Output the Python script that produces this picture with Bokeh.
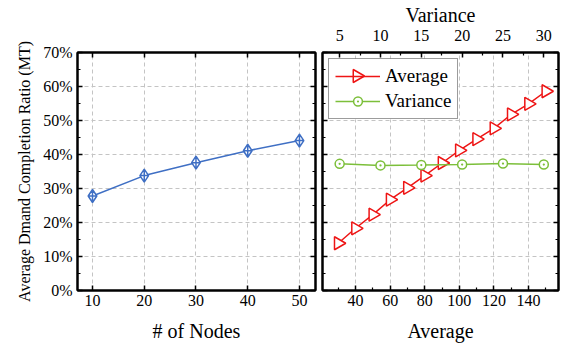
import numpy as np
from bokeh.plotting import figure
from bokeh.layouts import row
from bokeh.models import (Range1d, LinearAxis, FixedTicker, PrintfTickFormatter,
                          CustomJSTickFormatter, Legend, BoxAnnotation)
from bokeh.embed import file_html
from bokeh.resources import INLINE

# ---------------- data ----------------
nodes = [10, 20, 30, 40, 50]
nodes_ratio = [27.8, 33.8, 37.6, 41.1, 44.1]

avg_x = [30, 40, 50, 60, 70, 80, 90, 100, 110, 120, 130, 140, 150]
avg_ratio = [13.9, 18.3, 22.3, 26.7, 30.2, 33.8, 37.5, 41.2, 44.5, 47.7, 51.8, 54.9, 58.6]

var_x = [5, 10, 15, 20, 25, 30]
var_ratio = [37.25, 36.8, 36.9, 37.05, 37.35, 37.05]

y_ticks = [0, 10, 20, 30, 40, 50, 60, 70]
y_minor = [5, 15, 25, 35, 45, 55, 65]
nodes_ticks = [10, 20, 30, 40, 50]
avg_ticks = [40, 60, 80, 100, 120, 140]
avg_minor = [30, 50, 70, 90, 110, 130, 150]
var_ticks = [5, 10, 15, 20, 25, 30]
var_minor = [7.5, 12.5, 17.5, 22.5, 27.5]

FONT = "Liberation Serif"
BLUE = "#3f6fc4"
RED = "#ee1515"
GREEN = "#7cbf3a"
GRID = "#c4c4c4"

EMPTY = CustomJSTickFormatter(code="return ''")

FRAME_H = 238
FRAME_W2 = 236
TOP_B = 52
BOT_B = 56
H = TOP_B + FRAME_H + BOT_B
P2_LEFT_B = 4
P2_RIGHT_B = 10

Y_RANGE = (0, 70)
X1_RANGE = (7.1, 53.1)
X2_RANGE = (20.9, 157.3)
VAR_RANGE = (2.9, 31.8)


def style_axis(ax, ticks, minor, labels=True):
    ax.ticker = FixedTicker(ticks=ticks, minor_ticks=minor)
    ax.axis_line_color = "black"
    ax.axis_line_width = 2
    ax.major_tick_line_color = "black"
    ax.major_tick_line_width = 1.5
    ax.minor_tick_line_color = "black"
    ax.minor_tick_line_width = 1.2
    ax.major_tick_in = 5
    ax.major_tick_out = 0
    ax.minor_tick_in = 3
    ax.minor_tick_out = 0
    ax.major_label_text_font = FONT
    ax.major_label_text_font_size = "16px"
    ax.major_label_text_color = "black"
    ax.axis_label_text_font = FONT
    ax.axis_label_text_font_style = "normal"
    ax.axis_label_text_color = "black"
    ax.axis_label_text_font_size = "20px"
    if not labels:
        ax.formatter = EMPTY
        ax.major_label_standoff = 0


def style_fig(p):
    p.outline_line_color = "black"
    p.outline_line_width = 2
    p.outline_line_alpha = 1
    p.background_fill_color = "white"
    p.border_fill_color = "white"
    for g in (p.xgrid[0], p.ygrid[0]):
        g.grid_line_color = GRID
        g.grid_line_dash = "4 3"
        g.grid_line_width = 1


# ---------------- left panel ----------------
p1 = figure(width=318, height=H, output_backend="svg", toolbar_location=None,
            x_range=Range1d(*X1_RANGE), y_range=Range1d(*Y_RANGE),
            min_border_left=77, min_border_right=3, min_border_top=TOP_B,
            min_border_bottom=BOT_B)
style_fig(p1)
style_axis(p1.xaxis[0], nodes_ticks, [])
p1.xaxis[0].axis_label = "# of Nodes"
p1.xaxis[0].major_label_standoff = 4
p1.xaxis[0].axis_label_standoff = 11
style_axis(p1.yaxis[0], y_ticks, y_minor)
p1.yaxis[0].formatter = PrintfTickFormatter(format="%d%%")
p1.yaxis[0].axis_label = "Average Dmand Completion Ratio (MT)"
p1.yaxis[0].axis_label_text_font_size = "16px"
p1.yaxis[0].major_label_standoff = 5
p1.yaxis[0].axis_label_standoff = 7
p1.xgrid[0].ticker = FixedTicker(ticks=nodes_ticks)
p1.ygrid[0].ticker = FixedTicker(ticks=y_ticks[1:-1])

top1 = LinearAxis()
style_axis(top1, nodes_ticks, [], labels=False)
p1.add_layout(top1, "above")
right1 = LinearAxis()
style_axis(right1, y_ticks, y_minor, labels=False)
p1.add_layout(right1, "right")

p1.line(nodes, nodes_ratio, line_color=BLUE, line_width=1.5)
p1.scatter(nodes, nodes_ratio, marker="diamond_cross", size=13,
           line_color=BLUE, fill_color="white", line_width=1.5)

# ---------------- right panel ----------------
p2 = figure(width=P2_LEFT_B + FRAME_W2 + P2_RIGHT_B, height=H, output_backend="svg",
            toolbar_location=None,
            x_range=Range1d(*X2_RANGE), y_range=Range1d(*Y_RANGE),
            min_border_left=P2_LEFT_B, min_border_right=P2_RIGHT_B, min_border_top=TOP_B,
            min_border_bottom=BOT_B)
p2.extra_x_ranges = {"var": Range1d(*VAR_RANGE)}
style_fig(p2)
style_axis(p2.xaxis[0], avg_ticks, avg_minor)
p2.xaxis[0].axis_label = "Average"
p2.xaxis[0].major_label_standoff = 4
p2.xaxis[0].axis_label_standoff = 11
style_axis(p2.yaxis[0], y_ticks, y_minor, labels=False)
p2.xgrid[0].ticker = FixedTicker(ticks=avg_ticks)
p2.ygrid[0].ticker = FixedTicker(ticks=y_ticks[1:-1])

top2 = LinearAxis(x_range_name="var", axis_label="Variance")
style_axis(top2, var_ticks, var_minor)
top2.major_label_standoff = 12
top2.axis_label_standoff = 1
p2.add_layout(top2, "above")
right2 = LinearAxis()
style_axis(right2, y_ticks, y_minor, labels=False)
p2.add_layout(right2, "right")

# legend geometry (px)
LEG_MARGIN = 6
LEG_PAD = 6
GLYPH_W = 45
ITEM_H = 23
ITEM_GAP = 3
LEG_W = 130

# white patch behind the (transparent) legend so grid lines do not show through
mask = BoxAnnotation(left=P2_LEFT_B + LEG_MARGIN, right=P2_LEFT_B + LEG_MARGIN + LEG_W,
                     top=TOP_B + LEG_MARGIN,
                     bottom=TOP_B + LEG_MARGIN + 2 * LEG_PAD + 2 * ITEM_H + ITEM_GAP,
                     left_units="canvas", right_units="canvas",
                     top_units="canvas", bottom_units="canvas",
                     fill_color="white", fill_alpha=1, line_alpha=0, level="underlay")
p2.add_layout(mask)

TRI_SIZE = 13
r_avg_l = p2.line(avg_x, avg_ratio, line_color=RED, line_width=1.5)
r_avg_m = p2.scatter(avg_x, avg_ratio, marker="triangle", angle=-np.pi / 2, size=TRI_SIZE,
                     line_color=RED, fill_color="white", line_width=1.5)
r_var_l = p2.line(var_x, var_ratio, line_color=GREEN, line_width=1.5, x_range_name="var")
r_var_m = p2.scatter(var_x, var_ratio, marker="circle_dot", size=9, x_range_name="var",
                     line_color=GREEN, fill_color="white", line_width=1.5)

legend = Legend(items=[("Average", [r_avg_l]), ("Variance", [r_var_l, r_var_m])],
                location="top_left")
legend.margin = LEG_MARGIN
legend.padding = LEG_PAD
legend.spacing = ITEM_GAP
legend.glyph_width = GLYPH_W
legend.glyph_height = 22
legend.label_standoff = 5
legend.label_text_font = FONT
legend.label_text_font_size = "19px"
legend.label_text_color = "black"
legend.border_line_color = "#3a3a3a"
legend.border_line_width = 1.5
legend.background_fill_alpha = 0
p2.add_layout(legend, "center")

# right-pointing triangle symbol for the "Average" legend entry
# (Bokeh never rotates legend glyphs), placed at the legend glyph centre
leg_px = LEG_MARGIN + LEG_PAD + GLYPH_W / 2
leg_py = LEG_MARGIN + LEG_PAD + ITEM_H / 2
leg_x = X2_RANGE[0] + leg_px / FRAME_W2 * (X2_RANGE[1] - X2_RANGE[0])
leg_y = Y_RANGE[1] - leg_py / FRAME_H * (Y_RANGE[1] - Y_RANGE[0])
p2.scatter([leg_x], [leg_y], marker="triangle", angle=-np.pi / 2, size=TRI_SIZE,
           line_color=RED, fill_color="white", line_width=1.5)

layout = row(p1, p2, spacing=0)
open("out.html", "w").write(file_html(layout, INLINE))
